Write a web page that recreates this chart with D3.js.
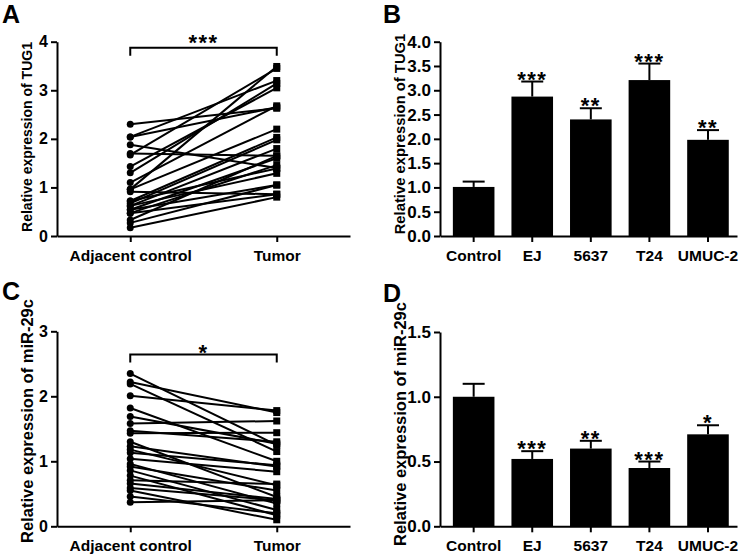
<!DOCTYPE html>
<html>
<head>
<meta charset="utf-8">
<script src="https://cdn.jsdelivr.net/npm/d3@7"></script>
<style>
  html, body { margin: 0; padding: 0; background: #fff; }
  svg text { font-family: "Liberation Sans", Arial, sans-serif; font-weight: bold; fill: #000; }
</style>
</head>
<body>
<svg id="chart" width="740" height="554"></svg>
<script>
// ---------- DATA ----------
const pairedCategories = ["Adjacent control", "Tumor"];
const tugAdjacent = [2.30, 2.04, 2.04, 1.88, 1.70, 1.67, 1.43, 1.30, 1.10, 0.96, 0.91, 0.96, 0.72, 0.67, 0.62, 0.54, 0.47, 0.72, 0.62, 0.33, 0.27, 0.17, 0.54, 0.47];
const tugTumor    = [2.63, 3.20, 2.65, 1.40, 1.65, 3.45, 3.05, 3.14, 2.68, 3.49, 0.86, 2.20, 2.03, 1.98, 1.80, 1.60, 1.46, 1.39, 1.29, 1.65, 1.05, 0.80, 1.05, 0.86];
const mirAdjacent = [2.35, 2.22, 2.19, 2.01, 1.82, 1.69, 1.58, 1.47, 1.43, 1.30, 1.23, 1.18, 1.13, 1.04, 0.96, 0.92, 0.86, 0.78, 0.71, 0.66, 0.59, 0.55, 0.46, 0.37];
const mirTumor    = [1.25, 1.75, 1.15, 1.78, 1.00, 1.27, 1.62, 1.30, 1.44, 0.45, 0.92, 0.63, 0.94, 0.84, 0.35, 0.55, 0.25, 0.17, 0.65, 0.42, 0.40, 0.10, 0.20, 0.40];
const tugPairedTicks = [0, 1, 2, 3, 4];
const mirPairedTicks = [0, 1, 2, 3];

const cellLines = ["Control", "EJ", "5637", "T24", "UMUC-2"];
const tugCellMean = [1.01, 2.87, 2.40, 3.21, 1.98];
const tugCellSem  = [0.11, 0.31, 0.23, 0.34, 0.20];
const tugCellSig  = ["", "***", "**", "***", "**"];
const mirCellMean = [1.00, 0.52, 0.60, 0.45, 0.71];
const mirCellSem  = [0.10, 0.06, 0.06, 0.05, 0.07];
const mirCellSig  = ["", "***", "**", "***", "*"];
const tugCellTicks = [0, 0.5, 1, 1.5, 2, 2.5, 3, 3.5, 4];
const mirCellTicks = [0, 0.5, 1, 1.5];

const svg = d3.select("#chart");

function styleAxis(g, fs) {
  g.selectAll("path.domain").attr("stroke", "#000").attr("stroke-width", 2);
  g.selectAll(".tick line").attr("stroke", "#000").attr("stroke-width", 2);
  g.selectAll(".tick text").style("font-size", (fs || 15.5) + "px").style("font-weight", "bold")
    .style("font-family", '"Liberation Sans", Arial, sans-serif').attr("fill", "#000");
}

function panelLetter(x, y, t) {
  svg.append("text").attr("x", x).attr("y", y).style("font-size", "25px").text(t);
}

function yTitle(cx, cy, t, fs) {
  svg.append("text").attr("transform", `translate(${cx},${cy}) rotate(-90)`)
    .attr("text-anchor", "middle").attr("dy", "0.35em").style("font-size", fs + "px").text(t);
}

// ---------- Paired plots ----------
function pairedPanel(opt) {
  const { left, right, top, bottom, domainMax, ticks, adj, tum, bracketY, stars, starDy, title } = opt;
  const y = d3.scaleLinear().domain([0, domainMax]).range([bottom, top]);
  const x = d3.scalePoint().domain(pairedCategories).range([left, right]).padding(0.5);

  const gy = svg.append("g").attr("transform", `translate(${left},0)`)
    .call(d3.axisLeft(y).tickValues(ticks).tickFormat(d3.format("d")).tickSize(6).tickSizeOuter(0).tickPadding(3));
  styleAxis(gy, 16);
  const gx = svg.append("g").attr("transform", `translate(0,${bottom})`)
    .call(d3.axisBottom(x).tickSize(6).tickSizeOuter(0).tickPadding(8));
  styleAxis(gx);

  const pairs = adj.map((a, i) => [a, tum[i]]);
  svg.append("g").selectAll("line").data(pairs).join("line")
    .attr("x1", x(pairedCategories[0])).attr("x2", x(pairedCategories[1]))
    .attr("y1", d => y(d[0])).attr("y2", d => y(d[1]))
    .attr("stroke", "#000").attr("stroke-width", 2);
  svg.append("g").selectAll("circle").data(adj).join("circle")
    .attr("cx", x(pairedCategories[0])).attr("cy", d => y(d)).attr("r", 3.5).attr("fill", "#000");
  const s = 7;
  svg.append("g").selectAll("rect").data(tum).join("rect")
    .attr("x", x(pairedCategories[1]) - s / 2).attr("y", d => y(d) - s / 2)
    .attr("width", s).attr("height", s).attr("fill", "#000");

  const x1 = x(pairedCategories[0]), x2 = x(pairedCategories[1]);
  svg.append("path").attr("d", `M${x1},${bracketY + 8}V${bracketY}H${x2}V${bracketY + 8}`)
    .attr("fill", "none").attr("stroke", "#000").attr("stroke-width", 2);
  svg.append("text").attr("x", (x1 + x2) / 2).attr("y", bracketY + starDy)
    .attr("text-anchor", "middle").style("font-size", "22px").style("letter-spacing", "1.5px").text(stars);

  yTitle(opt.titleX, opt.titleY, title, opt.titleFs);
}

// ---------- Bar plots ----------
function barPanel(opt) {
  const { left, right, top, bottom, domainMax, ticks, mean, sem, sig, title } = opt;
  const y = d3.scaleLinear().domain([0, domainMax]).range([bottom, top]);
  const x = d3.scaleBand().domain(cellLines).range([left, right])
    .paddingInner(0.29).paddingOuter(0.18).align(0.61);

  const data = cellLines.map((c, i) => ({ c, m: mean[i], e: sem[i], s: sig[i] }));
  const capW = 22;
  const cx = d => x(d.c) + x.bandwidth() / 2;
  const g = svg.append("g");
  g.selectAll("line.err").data(data).join("line").attr("class", "err")
    .attr("x1", cx).attr("x2", cx)
    .attr("y1", d => y(d.m)).attr("y2", d => y(d.m + d.e))
    .attr("stroke", "#000").attr("stroke-width", 2);
  g.selectAll("line.cap").data(data).join("line").attr("class", "cap")
    .attr("x1", d => cx(d) - capW / 2).attr("x2", d => cx(d) + capW / 2)
    .attr("y1", d => y(d.m + d.e)).attr("y2", d => y(d.m + d.e))
    .attr("stroke", "#000").attr("stroke-width", 2);
  g.selectAll("rect").data(data).join("rect")
    .attr("x", d => x(d.c)).attr("width", x.bandwidth())
    .attr("y", d => y(d.m)).attr("height", d => y(0) - y(d.m)).attr("fill", "#000");
  g.selectAll("text.sig").data(data).join("text").attr("class", "sig")
    .attr("x", cx).attr("y", d => y(d.m + d.e) + 5)
    .attr("text-anchor", "middle").style("font-size", "22px").style("letter-spacing", "1.5px").text(d => d.s);

  const gy = svg.append("g").attr("transform", `translate(${left},0)`)
    .call(d3.axisLeft(y).tickValues(ticks).tickFormat(d3.format(".1f")).tickSize(6).tickSizeOuter(0).tickPadding(3));
  styleAxis(gy, 17);
  const gx = svg.append("g").attr("transform", `translate(0,${bottom})`)
    .call(d3.axisBottom(x).tickSize(6).tickSizeOuter(0).tickPadding(8));
  styleAxis(gx);

  yTitle(opt.titleX, opt.titleY, title, opt.titleFs);
}

pairedPanel({ left: 57, right: 350, top: 41.7, bottom: 236, domainMax: 4, ticks: tugPairedTicks,
  adj: tugAdjacent, tum: tugTumor, bracketY: 47.7, stars: "***", starDy: 2, titleX: 27, titleY: 137, titleFs: 14,
  title: "Relative expression of TUG1" });
pairedPanel({ left: 57, right: 350, top: 331.3, bottom: 526.3, domainMax: 3, ticks: mirPairedTicks,
  adj: mirAdjacent, tum: mirTumor, bracketY: 354.5, stars: "*", starDy: 5, titleX: 27, titleY: 421, titleFs: 16.5,
  title: "Relative expression of miR-29c" });
barPanel({ left: 440, right: 737, top: 41.7, bottom: 236, domainMax: 4, ticks: tugCellTicks,
  mean: tugCellMean, sem: tugCellSem, sig: tugCellSig, titleX: 400, titleY: 134, titleFs: 14.8,
  title: "Relative expression of TUG1" });
barPanel({ left: 440, right: 737, top: 332, bottom: 526.3, domainMax: 1.5, ticks: mirCellTicks,
  mean: mirCellMean, sem: mirCellSem, sig: mirCellSig, titleX: 400, titleY: 424, titleFs: 16.5,
  title: "Relative expression of miR-29c" });

panelLetter(2, 23, "A");
panelLetter(383, 23, "B");
panelLetter(2, 300, "C");
panelLetter(383, 302, "D");
</script>
</body>
</html>
